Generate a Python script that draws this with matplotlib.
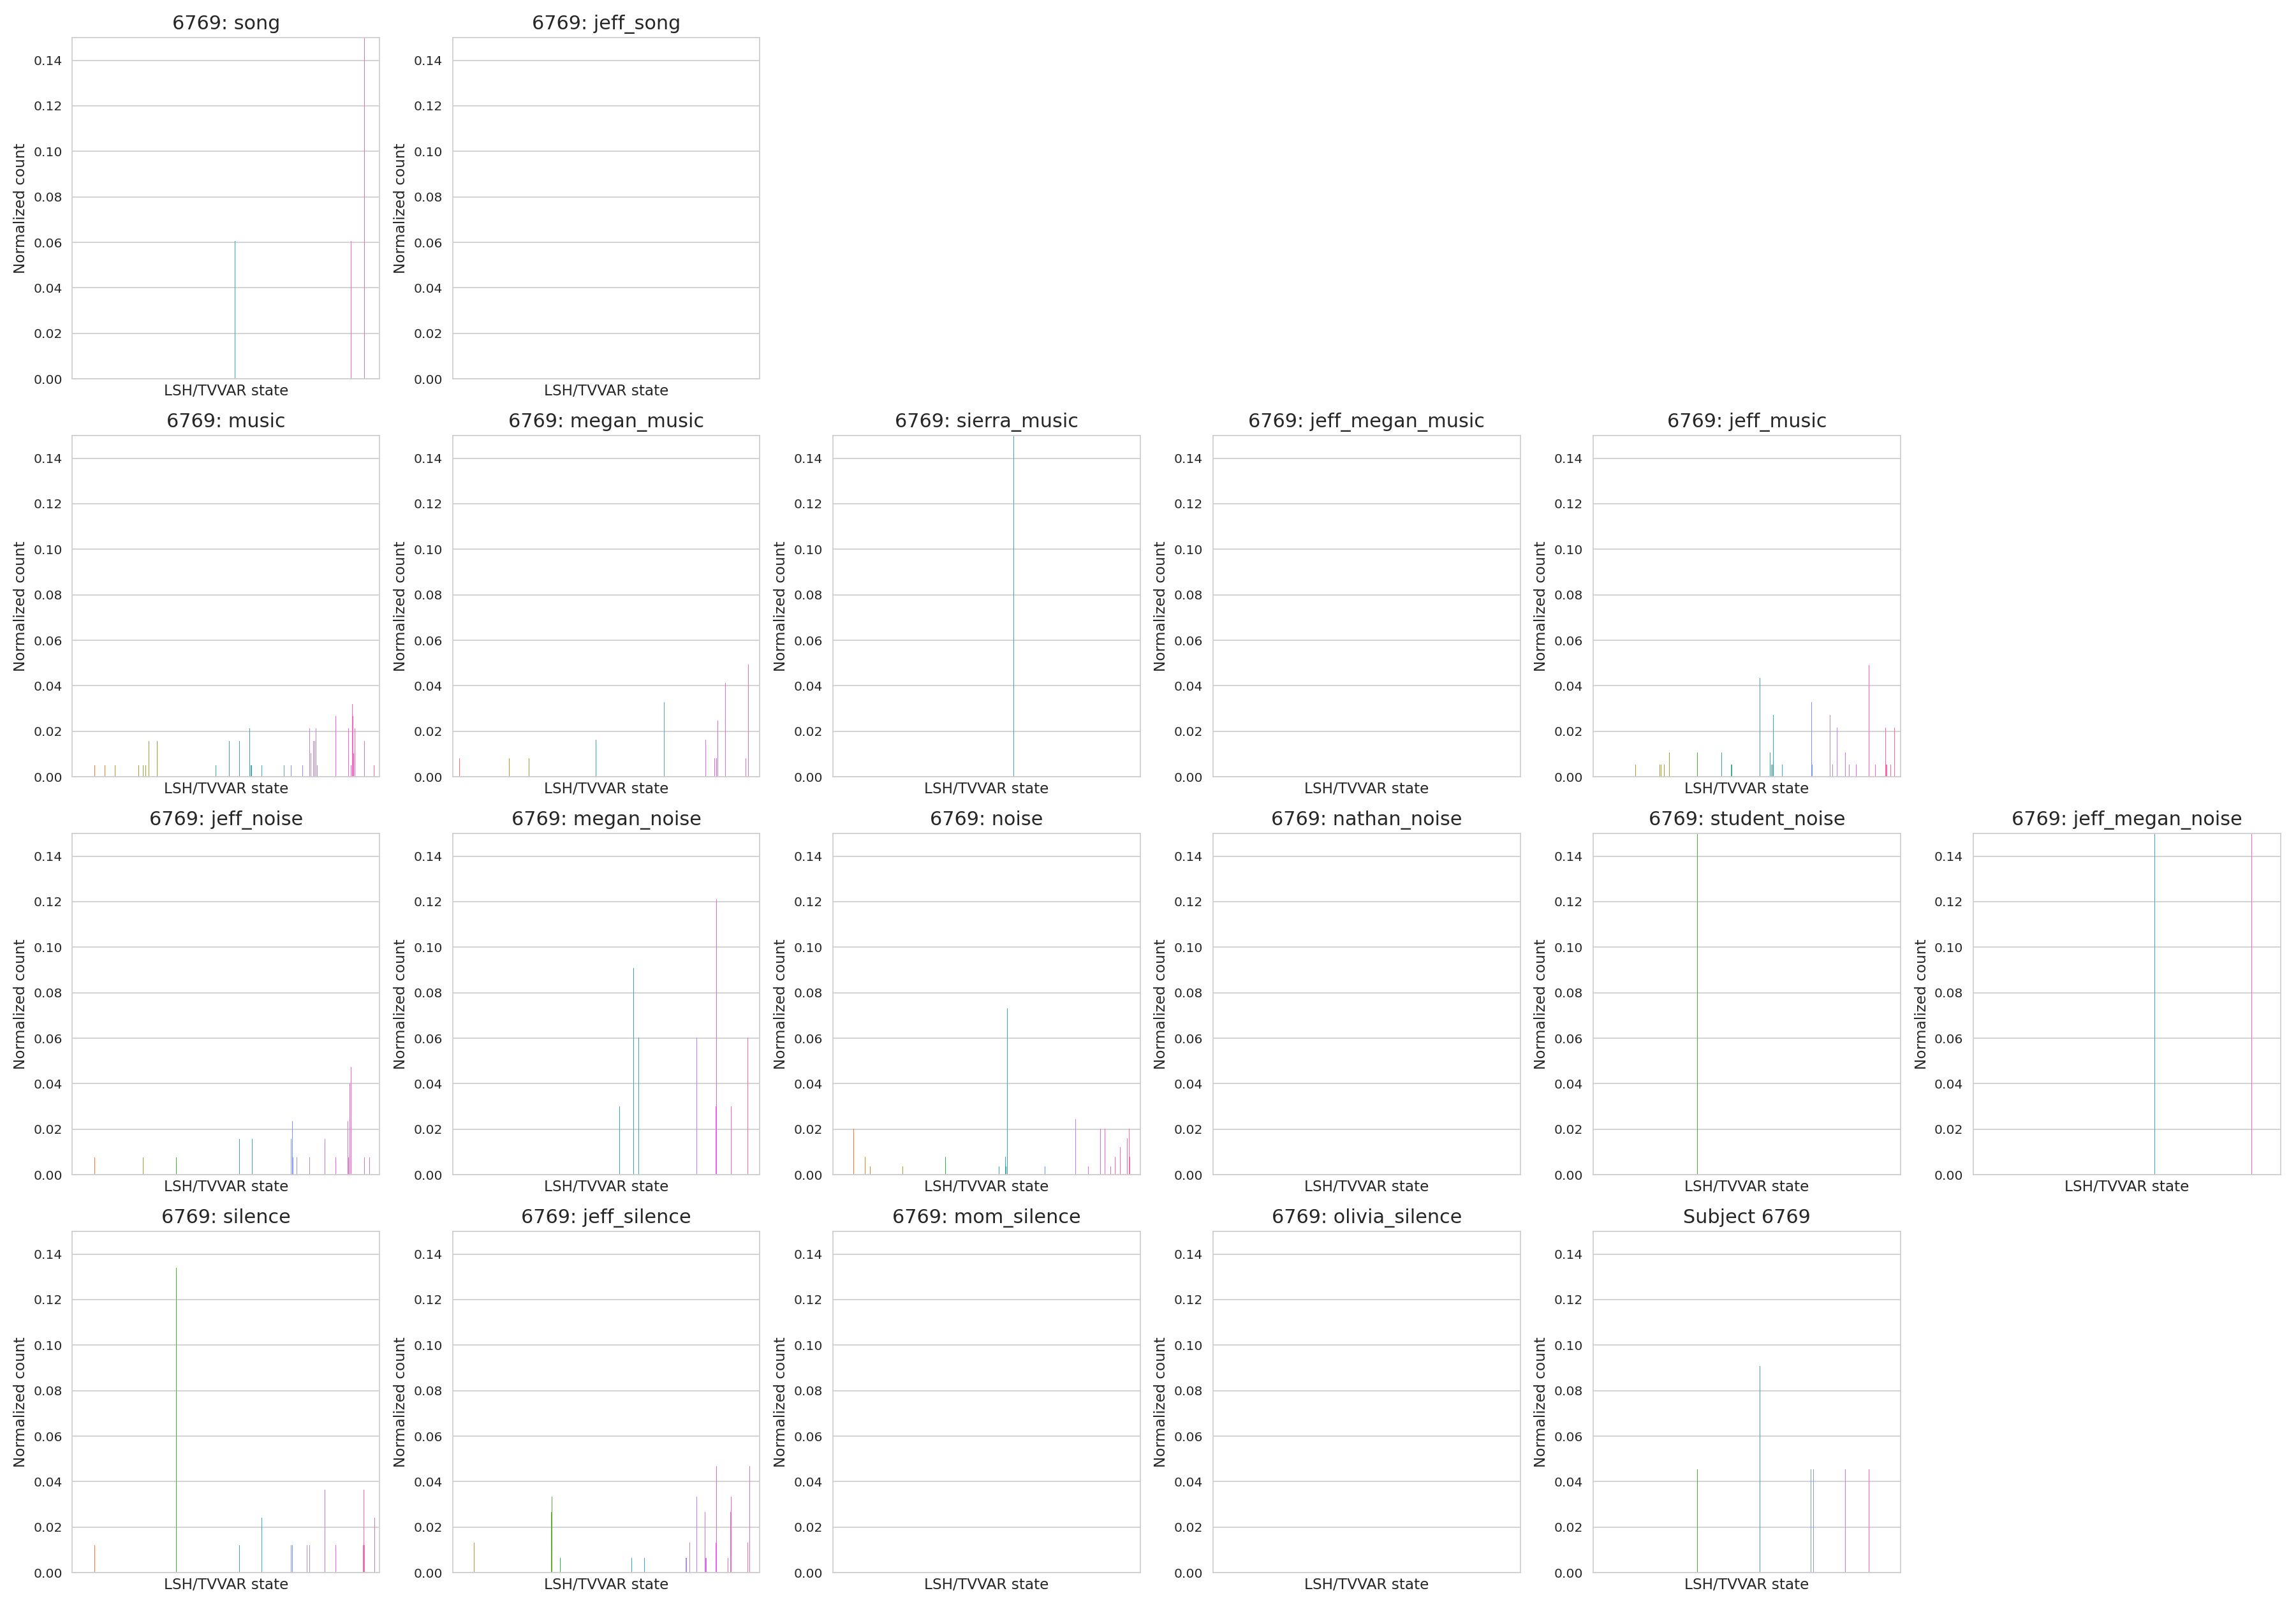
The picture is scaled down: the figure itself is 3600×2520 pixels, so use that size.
import matplotlib
matplotlib.use("Agg")
import matplotlib.pyplot as plt
import seaborn as sns

sns.set_style("whitegrid")

N_STATES = 400
SUBJECT = "6769"

# state index / normalized count for every recording condition
song_states = [211, 362, 380]
song_vals = [0.0606, 0.0606, 0.879]

jeff_song_states = []
jeff_song_vals = []

music_states = [29, 42, 55, 86, 92, 95, 99, 110, 186, 204, 217, 230, 232, 233, 246, 275, 284,
                299, 308, 310, 313, 315, 317, 318, 342, 359, 362, 364, 365, 366, 367, 380, 392]
music_vals = [0.0051, 0.0051, 0.0051, 0.0051, 0.0051, 0.0051, 0.0156, 0.0156, 0.0051, 0.0156,
              0.0156, 0.0213, 0.0051, 0.0051, 0.0051, 0.0051, 0.0051, 0.0051, 0.0213, 0.0104,
              0.0156, 0.0156, 0.0213, 0.0051, 0.0267, 0.0213, 0.0051, 0.032, 0.0267, 0.0104,
              0.0213, 0.0156, 0.0051]

megan_music_states = [9, 73, 99, 141, 186, 275, 329, 341, 343, 345, 355, 381, 385]
megan_music_vals = [0.0082, 0.0082, 0.0082, 0.0248, 0.0164, 0.0329, 0.0164, 0.0082, 0.0082,
                    0.0248, 0.0413, 0.0082, 0.0494]

sierra_music_states = [235]
sierra_music_vals = [1.0]

jeff_megan_music_states = []
jeff_megan_music_vals = []

jeff_music_states = [55, 86, 88, 92, 99, 110, 135, 167, 179, 180, 217, 230, 232, 233, 234, 246,
                     284, 285, 308, 311, 317, 328, 333, 342, 359, 364, 367, 380, 381, 382, 387, 392]
jeff_music_vals = [0.0054, 0.0054, 0.0054, 0.0054, 0.0107, 0.0273, 0.0107, 0.0107, 0.0054, 0.0054,
                   0.0435, 0.0107, 0.0054, 0.0054, 0.0273, 0.0054, 0.0327, 0.0054, 0.0273, 0.0054,
                   0.0216, 0.0107, 0.0054, 0.0054, 0.0491, 0.0327, 0.0054, 0.0216, 0.0054, 0.0054,
                   0.0054, 0.0216]

jeff_noise_states = [29, 92, 135, 217, 234, 284, 286, 287, 292, 308, 328, 342, 358, 359, 361, 362,
                     380, 386]
jeff_noise_vals = [0.0077, 0.0077, 0.0077, 0.0156, 0.0156, 0.0156, 0.0237, 0.0077, 0.0077, 0.0077,
                   0.0156, 0.0077, 0.0237, 0.0077, 0.04, 0.0475, 0.0077, 0.0077]

megan_noise_states = [217, 235, 242, 317, 342, 343, 362, 384]
megan_noise_vals = [0.0301, 0.0909, 0.0602, 0.0602, 0.0301, 0.1211, 0.0301, 0.0602]

noise_states = [27, 42, 48, 91, 146, 216, 224, 225, 227, 276, 316, 332, 348, 354, 361, 367, 374,
                375, 383, 385, 386]
noise_vals = [0.0202, 0.0079, 0.0038, 0.0038, 0.0079, 0.0038, 0.0079, 0.0038, 0.0731, 0.0038,
              0.0243, 0.0038, 0.0202, 0.0202, 0.0038, 0.0079, 0.012, 0.0243, 0.016, 0.0202, 0.0079]

nathan_noise_states = []
nathan_noise_vals = []

student_noise_states = [135]
student_noise_vals = [1.0]

jeff_megan_noise_states = [236, 362]
jeff_megan_noise_vals = [0.5, 0.5]

silence_states = [29, 135, 217, 246, 284, 286, 305, 308, 328, 342, 378, 379, 380, 393]
silence_vals = [0.0121, 0.1341, 0.0121, 0.0241, 0.0121, 0.0121, 0.0121, 0.0121, 0.0365, 0.0121,
                0.0121, 0.0365, 0.0121, 0.0241]

jeff_silence_states = [28, 128, 129, 140, 233, 249, 303, 304, 308, 317, 328, 329, 330, 342, 343,
                       358, 361, 362, 384, 386]
jeff_silence_vals = [0.0133, 0.0267, 0.0335, 0.0065, 0.0065, 0.0065, 0.0065, 0.0065, 0.0133,
                     0.0335, 0.0267, 0.0065, 0.0065, 0.0133, 0.0469, 0.0065, 0.0267, 0.0335,
                     0.0133, 0.0469]

mom_silence_states = []
mom_silence_vals = []

olivia_silence_states = []
olivia_silence_vals = []

subject_states = [135, 217, 283, 286, 328, 359]
subject_vals = [0.0454, 0.0908, 0.0454, 0.0454, 0.0454, 0.0454]

layout = [
    [("song", song_states, song_vals), ("jeff_song", jeff_song_states, jeff_song_vals),
     None, None, None, None],
    [("music", music_states, music_vals),
     ("megan_music", megan_music_states, megan_music_vals),
     ("sierra_music", sierra_music_states, sierra_music_vals),
     ("jeff_megan_music", jeff_megan_music_states, jeff_megan_music_vals),
     ("jeff_music", jeff_music_states, jeff_music_vals), None],
    [("jeff_noise", jeff_noise_states, jeff_noise_vals),
     ("megan_noise", megan_noise_states, megan_noise_vals),
     ("noise", noise_states, noise_vals),
     ("nathan_noise", nathan_noise_states, nathan_noise_vals),
     ("student_noise", student_noise_states, student_noise_vals),
     ("jeff_megan_noise", jeff_megan_noise_states, jeff_megan_noise_vals)],
    [("silence", silence_states, silence_vals),
     ("jeff_silence", jeff_silence_states, jeff_silence_vals),
     ("mom_silence", mom_silence_states, mom_silence_vals),
     ("olivia_silence", olivia_silence_states, olivia_silence_vals),
     (None, subject_states, subject_vals), None],
]

palette = sns.color_palette("husl", N_STATES)

fig, axes = plt.subplots(4, 6, figsize=(24, 16.8), dpi=150)
fig.subplots_adjust(left=0.0315, right=0.9933, top=0.9766, bottom=0.0214,
                    wspace=0.237, hspace=0.166)

for r, row in enumerate(layout):
    for c, panel in enumerate(row):
        ax = axes[r, c]
        if panel is None:
            ax.set_visible(False)
            continue
        name, states, vals = panel
        ax.bar(states, vals, width=0.8, color=[palette[s] for s in states], linewidth=0)
        ax.set_xlim(-0.5, N_STATES - 0.5)
        ax.set_ylim(0, 0.15)
        ax.set_yticks([0, 0.02, 0.04, 0.06, 0.08, 0.10, 0.12, 0.14])
        ax.set_xticks([])
        ax.tick_params(axis="y", labelsize=9.8, pad=4)
        ax.set_xlabel("LSH/TVVAR state", fontsize=11.2, labelpad=4)
        ax.set_ylabel("Normalized count", fontsize=11.2)
        if name is None:
            ax.set_title("Subject " + SUBJECT, fontsize=14.5)
        else:
            ax.set_title(SUBJECT + ": " + name, fontsize=14.5)

fig.savefig("out.png", dpi=150)
